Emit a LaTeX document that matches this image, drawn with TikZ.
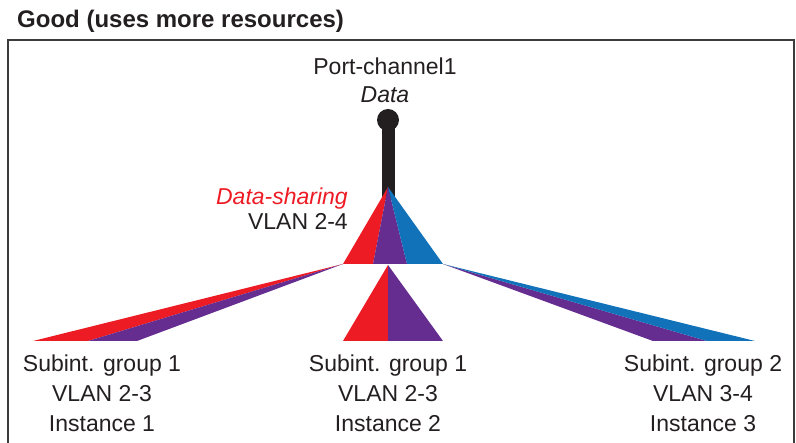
\documentclass[tikz,border=0pt]{standalone}
\usepackage{fontspec}
\setmainfont{Liberation Sans}
\definecolor{cred}{RGB}{237,28,36}
\definecolor{cpurple}{RGB}{102,45,145}
\definecolor{cblue}{RGB}{17,114,186}
\definecolor{cblack}{RGB}{35,31,32}
\definecolor{cframe}{RGB}{60,60,60}
\tikzset{
  lbl/.style={inner sep=0pt, anchor=base, text=cblack, font=\fontsize{23}{30}\selectfont},
  fillred/.style={fill=cred},
  fillpurple/.style={fill=cpurple},
  fillblue/.style={fill=cblue},
}
\begin{document}
\begin{tikzpicture}[x=1pt,y=-1pt]
\useasboundingbox (0,0) rectangle (796,443);
% frame
\draw[cframe, line width=2pt] (8,460) -- (8,40) -- (794,40) -- (794,460);
\node[lbl, anchor=base west, font=\bfseries\fontsize{24}{28}\selectfont] (title) at (17,28) {Good (uses more resources)};
% coordinates
\coordinate (top) at (388,187);
\coordinate (tl) at (343,264);
\coordinate (tm1) at (373,264);
\coordinate (tm2) at (407,264);
\coordinate (tr) at (443,264);
\coordinate (mtop) at (388,265);
\coordinate (ml) at (343,341);
\coordinate (mm) at (388,341);
\coordinate (mr) at (443,341);
\coordinate (l1) at (33,341);
\coordinate (l2) at (88,341);
\coordinate (l3) at (137,341);
\coordinate (r1) at (653,341);
\coordinate (r2) at (707,341);
\coordinate (r3) at (755,341);
% stem
\fill[cblack] (382,120) rectangle (395,200);
\fill[cblack] (388,120) circle[radius=11];
% top triangle
\fill[fillred] (top) -- (tl) -- (tm1) -- cycle;
\fill[fillpurple] (top) -- (tm1) -- (tm2) -- cycle;
\fill[fillblue] (top) -- (tm2) -- (tr) -- cycle;
% middle triangle
\fill[fillred] (mtop) -- (ml) -- (mm) -- cycle;
\fill[fillpurple] (mtop) -- (mm) -- (mr) -- cycle;
% left wedge
\fill[fillred] (tl) -- (l1) -- (l2) -- cycle;
\fill[fillpurple] (tl) -- (l2) -- (l3) -- cycle;
% right wedge
\fill[fillpurple] (tr) -- (r1) -- (r2) -- cycle;
\fill[fillblue] (tr) -- (r2) -- (r3) -- cycle;
% labels
\node[lbl] (pc) at (385,75) {Port-channel1};
\node[lbl] (data) at (385,103) {\itshape Data};
\node[lbl, anchor=base east, text=cred] (ds) at (348,205) {\itshape Data-sharing};
\node[lbl, anchor=base east] (vl) at (348,230) {VLAN 2-4};
\node[lbl] (a1) at (102,372) {Subint. group 1};
\node[lbl] (a2) at (102,402) {VLAN 2-3};
\node[lbl] (a3) at (102,432) {Instance 1};
\node[lbl] (b1) at (388,372) {Subint. group 1};
\node[lbl] (b2) at (388,402) {VLAN 2-3};
\node[lbl] (b3) at (388,432) {Instance 2};
\node[lbl] (c1) at (703,372) {Subint. group 2};
\node[lbl] (c2) at (703,402) {VLAN 3-4};
\node[lbl] (c3) at (703,432) {Instance 3};
\end{tikzpicture}
\end{document}
